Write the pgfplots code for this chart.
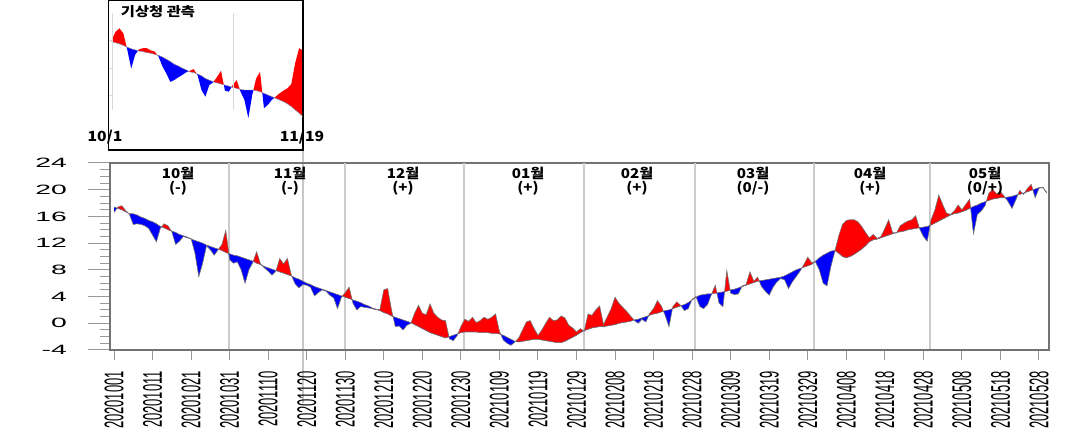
\documentclass[border=0pt]{standalone}
\usepackage{fontspec}
\usepackage{pgfplots}
\usepackage{pgfplotstable}
\pgfplotsset{compat=1.18}
\setmainfont{Liberation Sans}
\newfontfamily\ytf[FakeStretch=2.1]{Liberation Sans}
\newfontfamily\xtf[FakeStretch=0.48]{Liberation Sans}
\newfontfamily\kor[FakeStretch=1.12]{Noto Sans CJK KR}
\newfontfamily\korin[FakeStretch=1.18]{Noto Sans CJK KR}

% daily values; rows with obs = clim mark where the two curves cross
\pgfplotstableread{
idx clim obs
0 17.4 16.6
0.8 17.24 17.24
1 17.2 17.4
2 17.0 17.6
3 16.7 16.9
3.67 16.5 16.5
4 16.4 16.3
5 16.4 14.8
6 16.2 14.9
7 15.9 14.8
8 15.7 14.6
9 15.4 14.2
10 15.2 13.2
11 14.9 12.2
12 14.5 14.2
12.33 14.43 14.43
13 14.3 14.9
14 14.0 14.6
14.86 13.83 13.83
15 13.8 13.7
16 13.6 11.8
17 13.3 12.3
18 13.1 13.0
19 12.9 12.8
19.5 12.75 12.75
20 12.6 12.7
20.05 12.59 12.59
21 12.4 10.5
22 12.2 7.0
23 12.0 9.0
24 11.7 11.6
25 11.5 11.0
26 11.3 10.2
27 11.1 11.0
27.1 11.08 11.08
28 10.9 11.8
29 10.6 13.9
29.79 10.44 10.44
30 10.4 9.5
31 10.2 9.0
32 10.1 9.2
33 9.9 8.0
34 9.7 6.0
35 9.5 8.0
36 9.3 9.1
36.11 9.27 9.27
37 9.0 10.7
38 8.8 8.9
38.33 8.7 8.7
39 8.5 8.3
40 8.3 7.8
41 8.1 7.2
42 7.9 7.8
42.05 7.89 7.89
43 7.7 9.7
44 7.5 8.9
45 7.3 9.7
46 7.1 7.2
46.1 7.07 7.07
47 6.8 5.9
48 6.6 5.3
49 6.3 5.8
50 6.0 5.7
51 5.8 5.4
52 5.5 4.1
53 5.3 4.6
54 5.1 5.0
55 4.9 4.8
56 4.7 4.2
57 4.5 3.8
58 4.3 2.2
59 4.1 3.9
59.22 4.06 4.06
60 3.9 4.6
61 3.7 5.4
61.77 3.55 3.55
62 3.5 3.0
63 3.3 2.0
64 3.1 2.5
65 2.8 2.4
66 2.6 2.3
67 2.3 2.2
68 2.1 2.0
68.33 2.03 2.03
69 1.9 2.1
70 1.6 5.0
71 1.4 5.2
72 1.1 2.0
72.39 1.02 1.02
73 0.9 -0.5
74 0.7 -0.4
75 0.5 -1.0
76 0.3 -0.3
77 0.1 0.0
77.06 0.08 0.08
78 -0.2 1.5
79 -0.5 2.7
80 -0.8 1.5
81 -1.1 1.3
82 -1.4 2.9
83 -1.6 1.5
84 -1.8 0.9
85 -2.0 0.5
86 -2.2 0.4
86.9 -2.02 -2.02
87 -2.0 -2.3
88 -1.8 -2.6
89 -1.6 -1.9
89.25 -1.55 -1.55
90 -1.4 -0.5
91 -1.3 0.6
92 -1.3 0.3
93 -1.3 0.9
94 -1.3 0.1
95 -1.4 0.4
96 -1.4 0.9
97 -1.4 0.6
98 -1.5 0.9
99 -1.5 1.4
100 -1.6 -1.2
100.36 -1.67 -1.67
101 -1.8 -2.5
102 -2.1 -3.0
103 -2.4 -3.3
104 -2.7 -2.8
104.14 -2.71 -2.71
105 -2.8 -2.2
106 -2.7 -1.0
107 -2.6 0.2
108 -2.5 0.4
109 -2.4 -0.8
110 -2.4 -1.8
111 -2.5 -1.0
112 -2.6 0.0
113 -2.7 0.9
114 -2.8 0.4
115 -2.9 0.5
116 -2.9 1.1
117 -2.7 0.8
118 -2.4 -0.3
119 -2.1 -0.7
120 -1.8 -1.3
121 -1.4 -0.8
121.86 -1.14 -1.14
122 -1.1 -1.2
122.04 -1.09 -1.09
123 -0.9 1.4
124 -0.7 1.2
125 -0.6 2.0
126 -0.5 2.6
127 -0.5 -0.2
128 -0.4 1.0
129 -0.3 2.2
130 -0.2 3.9
131 0.0 3.0
132 0.1 2.4
133 0.2 1.8
134 0.3 1.1
134.94 0.49 0.49
135 0.5 0.45
136 0.6 0.0
137 0.8 0.6
138 1.0 0.2
138.73 1.15 1.15
139 1.2 1.5
140 1.4 2.2
141 1.5 3.4
142 1.7 2.6
142.56 1.81 1.81
143 1.9 1.2
144 2.0 -0.5
144.89 2.18 2.18
145 2.2 2.5
146 2.4 3.2
147 2.6 2.7
147.1 2.62 2.62
148 2.8 1.9
149 3.1 2.2
149.9 3.46 3.46
150 3.5 3.6
151 3.9 4.0
151.06 3.92 3.92
152 4.2 2.5
153 4.3 2.2
154 4.4 2.8
155 4.4 4.3
155.08 4.41 4.41
156 4.5 5.7
156.43 4.54 4.54
157 4.6 3.0
158 4.7 2.5
158.42 4.74 4.74
159 4.8 7.9
159.86 4.97 4.97
160 5.0 4.5
161 5.1 4.3
162 5.3 4.4
162.9 5.48 5.48
163 5.5 5.6
164 5.7 5.8
165 5.9 7.7
166 6.1 6.3
167 6.3 6.9
167.4 6.34 6.34
168 6.4 5.5
169 6.5 4.8
170 6.6 4.2
171 6.7 5.4
172 6.8 6.2
173 6.9 6.7
174 7.1 6.5
175 7.4 5.2
176 7.7 6.2
177 8.0 7.0
178 8.2 7.8
178.5 8.3 8.3
179 8.4 8.8
180 8.6 9.9
181 8.8 9.1
181.75 9.18 9.18
182 9.3 9.2
183 9.8 8.0
184 10.2 6.0
185 10.5 5.6
186 10.8 8.5
187 10.9 10.7
187.07 10.87 10.87
188 10.5 13.0
189 10.0 14.8
190 9.8 15.4
191 10.0 15.5
192 10.3 15.5
193 10.7 15.2
194 11.1 14.5
195 11.6 13.6
196 12.2 12.8
197 12.5 13.3
198 12.6 12.7
199 12.8 13.0
200 13.0 14.2
201 13.2 15.5
202 13.4 13.6
202.67 13.53 13.53
203 13.6 13.5
203.1 13.61 13.61
204 13.7 14.6
205 13.8 15.0
206 14.0 15.3
207 14.1 15.5
208 14.2 16.1
208.95 14.3 14.3
209 14.3 14.2
210 14.4 13.0
211 14.5 12.3
211.73 14.65 14.65
212 14.7 15.5
213 15.0 17.0
214 15.3 19.2
215 15.6 17.8
216 15.9 16.5
217 16.2 16.3
218 16.4 16.8
219 16.5 17.7
220 16.7 17.0
221 16.9 17.8
222 17.2 18.6
222.25 17.28 17.28
223 17.5 13.4
224 17.7 16.3
225 18.0 16.8
226 18.2 17.6
226.35 18.27 18.27
227 18.4 19.5
228 18.6 20.0
229 18.7 19.4
230 18.8 19.7
231 18.8 19.0
231.22 18.82 18.82
232 18.9 18.2
233 19.0 17.2
234 19.2 18.5
234.54 19.25 19.25
235 19.3 19.9
235.75 19.45 19.45
236 19.5 19.3
236.29 19.56 19.56
237 19.7 20.2
238 19.9 20.8
238.41 19.98 19.98
239 20.1 18.8
240 20.3 20.2
240.5 20.3 20.3
241 20.3 20.4
241.5 19.95 19.95
242 19.6 19.5
}\maindata

\pgfplotstableread{
d clim obs
0 19.7 20.0
1 19.5 21.5
2 19.3 22.1
3 19.0 21.2
3.81 18.76 18.76
4 18.7 18.2
5 18.4 14.8
6 18.2 17.3
6.75 18.05 18.05
7 18.0 18.3
8 17.9 18.5
9 17.7 18.5
10 17.6 18.1
11 17.4 17.9
11.71 17.26 17.26
12 17.2 17.0
13 16.9 15.2
14 16.5 13.9
15 16.1 12.4
16 15.6 12.7
17 15.3 13.2
18 14.9 13.6
19 14.6 14.1
19.71 14.32 14.32
20 14.2 14.4
21 14.1 14.7
21.75 13.88 13.88
22 13.8 13.6
23 13.5 10.9
24 13.0 9.7
25 12.7 11.8
26 12.4 12.3
26.08 12.38 12.38
27 12.2 13.3
28 12.0 14.4
28.71 11.86 11.86
29 11.8 10.8
30 11.6 10.6
30.71 11.46 11.46
31 11.4 11.8
32 11.2 12.7
32.79 11.04 11.04
33 11.0 10.6
34 10.9 9.1
35 10.9 5.8
36 10.9 10.0
36.29 10.87 10.87
37 10.8 13.0
38 10.6 14.2
38.57 10.43 10.43
39 10.3 7.6
40 10.0 8.2
41 9.7 9.1
41.67 9.5 9.5
42 9.4 9.7
43 9.1 10.3
44 8.8 10.8
45 8.4 11.2
46 7.9 12.0
47 7.3 15.8
48 6.7 18.5
49 6.1 18.1
}\insetdata

\pgfplotsset{
  mainpos/.style={at={(110pt,91pt)}, anchor=south west, width=939pt, height=187pt,
    scale only axis, xmin=-1.04, xmax=242.6, ymin=-4, ymax=24},
  inpos/.style={at={(108.3pt,291pt)}, anchor=south west, width=194.7pt, height=150pt,
    scale only axis, xmin=-0.87, xmax=49, ymin=0, ymax=27.27},
}

\begin{document}
\begin{tikzpicture}
\useasboundingbox (0pt,0pt) rectangle (1067pt,441pt);
\draw[black!22, line width=1.2pt] (303pt,291pt) -- (303pt,38pt);

% ---------- frame, y ticks, month separators
\begin{axis}[mainpos,
  axis line style={draw=black!55, line width=1.4pt},
  xtick=\empty,
  ytick={-4,0,4,8,12,16,20,24},
  yticklabels={-4,0,4,8,12,16,20,24},
  minor y tick num=3,
  ytick pos=left, tick align=outside,
  major tick length=22pt, minor tick length=10pt,
  tick style={draw=black!40, line width=1pt},
  yticklabel shift=21pt,
  yticklabel style={font=\ytf\fontsize{13.5}{14}\selectfont, inner sep=0pt, anchor=east},
  extra x ticks={29.8,59.9,90.8,122,150.8,181.6,211.7},
  extra x tick labels={},
  extra x tick style={grid=major, major grid style={draw=black!20, line width=1.6pt}, tick style={draw=none}},
]
\addplot[draw=none, mark=none] coordinates {(0,0) (240,0)};
\end{axis}

% ---------- warm anomalies (red), stacked on the normal
\begin{axis}[mainpos, hide axis, stack plots=y]
\addplot[draw=none, mark=none] table[x=idx,y=clim]{\maindata};
\addplot[fill=red, draw=none, mark=none] table[x=idx,y expr={max(\thisrow{obs}-\thisrow{clim},0)}]{\maindata} \closedcycle;
\end{axis}

% ---------- cold anomalies (blue), stacked on the normal
\begin{axis}[mainpos, hide axis, stack plots=y]
\addplot[draw=none, mark=none] table[x=idx,y=clim]{\maindata};
\addplot[fill=blue, draw=none, mark=none] table[x=idx,y expr={min(\thisrow{obs}-\thisrow{clim},0)}]{\maindata} \closedcycle;
\end{axis}

% ---------- lines and x ticks
\begin{axis}[mainpos,
  axis x line*=bottom, axis y line=none,
  axis line style={draw=black!55, line width=1.4pt},
  xtick={0,10,...,240},
  xticklabels={20201001,20201011,20201021,20201031,20201110,20201120,20201130,20201210,20201220,20201230,20210109,20210119,20210129,20210208,20210218,20210228,20210309,20210319,20210329,20210408,20210418,20210428,20210508,20210518,20210528},
  tick align=outside, major tick length=10pt,
  tick style={draw=black!40, line width=1pt},
  xticklabel shift=11pt,
  xticklabel style={rotate=90, anchor=east, inner sep=0pt, font=\xtf\fontsize{27}{27}\selectfont},
]
\addplot[black!55, line width=0.6pt, mark=none] table[x=idx,y=clim]{\maindata};
\addplot[black!55, line width=0.6pt, mark=none] table[x=idx,y=obs]{\maindata};
\end{axis}

% ---------- inset
\begin{axis}[inpos, hide axis, stack plots=y]
\addplot[draw=none, mark=none] table[x=d,y=clim]{\insetdata};
\addplot[fill=red, draw=none, mark=none] table[x=d,y expr={max(\thisrow{obs}-\thisrow{clim},0)}]{\insetdata} \closedcycle;
\end{axis}
\begin{axis}[inpos, hide axis, stack plots=y]
\addplot[draw=none, mark=none] table[x=d,y=clim]{\insetdata};
\addplot[fill=blue, draw=none, mark=none] table[x=d,y expr={min(\thisrow{obs}-\thisrow{clim},0)}]{\insetdata} \closedcycle;
\end{axis}
\begin{axis}[inpos,
  axis line style={draw=black, line width=1.3pt},
  xtick=\empty, ytick=\empty,
]
\addplot[black!40, line width=0.4pt, mark=none] table[x=d,y=clim]{\insetdata};
\end{axis}

% ---------- decorations and labels
\draw[black!15, line width=0.8pt] (112pt,331pt) -- (112pt,428pt);
\draw[black!15, line width=0.8pt] (233pt,331pt) -- (233pt,428pt);
\foreach \yy in {401,373,346} {\draw[black!15, line width=0.8pt] (112pt,\yy pt) -- (109pt,\yy pt);}
\node[font=\korin\bfseries\fontsize{13}{14}\selectfont] at (158pt,429pt) {기상청 관측};
\node[font=\kor\bfseries\fontsize{14}{15}\selectfont] at (105pt,304pt) {10/1};
\node[font=\kor\bfseries\fontsize{14}{15}\selectfont] at (302pt,304pt) {11/19};

\foreach \x/\m/\s in {178/10월/{(-)}, 290/11월/{(-)}, 403/12월/{(+)}, 528/01월/{(+)}, 637/02월/{(+)}, 753/03월/{(0/-)}, 870/04월/{(+)}, 985/05월/{(0/+)}}{
  \node[font=\kor\bfseries\fontsize{13.5}{15}\selectfont] at (\x pt,268pt) {\m};
  \node[font=\kor\bfseries\fontsize{13.5}{15}\selectfont] at (\x pt,253pt) {\s};
}
\end{tikzpicture}
\end{document}
